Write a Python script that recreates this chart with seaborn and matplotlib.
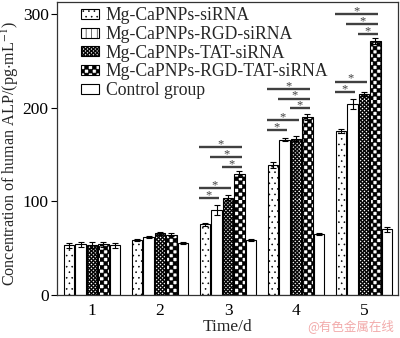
import numpy as np
import pandas as pd
import matplotlib
matplotlib.use("Agg")
import matplotlib.pyplot as plt
import matplotlib.hatch as mhatch
import matplotlib.patches as mpatches
from matplotlib.path import Path
import seaborn as sns

# ---------------- data ----------------
days = ["1", "2", "3", "4", "5"]
groups = ["Mg-CaPNPs-siRNA", "Mg-CaPNPs-RGD-siRNA", "Mg-CaPNPs-TAT-siRNA",
          "Mg-CaPNPs-RGD-TAT-siRNA", "Control group"]
sirna = [53, 59, 75.5, 139, 175]
rgd_sirna = [54, 62, 91, 166, 204]
tat_sirna = [53.5, 66, 104, 167, 215]
rgd_tat_sirna = [54, 64.5, 129, 190, 271]
control = [53, 56, 59, 65, 70]
sirna_err = [3, 1, 1.5, 3, 2]
rgd_sirna_err = [3, 1, 5, 2, 5]
tat_sirna_err = [3, 1.5, 3, 3, 2]
rgd_tat_sirna_err = [3, 1.5, 3, 3, 3]
control_err = [3, 1, 1, 1, 3]

# significance brackets: pairs of group indices, and heights per day
sig_pairs = [(0, 3), (1, 3), (2, 3), (0, 2), (0, 1)]
sig_day3 = [158.3, 147.6, 136.6, 114.2, 103.6]
sig_day4 = [219.6, 209.6, 199.3, 186.8, 176.2]
sig_day5 = [299.7, 289.0, 278.3, 227.7, 216.4]
yticks = [0, 100, 200, 300]


# ---------------- checkerboard hatch ----------------
class CheckerHatch(mhatch.HatchPatternBase):
    def __init__(self, hatch, density):
        self.n = 2 * hatch.count("O")
        self.cells = [(i, j) for i in range(self.n) for j in range(self.n)
                      if (i + j) % 2 == 0] if self.n else []
        self.num_vertices = len(self.cells) * 5

    def set_vertices_and_codes(self, vertices, codes):
        s = 1.0 / self.n
        for m, (i, j) in enumerate(self.cells):
            x0, y0 = i * s, j * s
            vertices[m * 5:(m + 1) * 5] = [(x0, y0), (x0 + s, y0), (x0 + s, y0 + s),
                                           (x0, y0 + s), (x0, y0)]
            codes[m * 5:(m + 1) * 5] = [Path.MOVETO, Path.LINETO, Path.LINETO,
                                        Path.LINETO, Path.CLOSEPOLY]


mhatch._hatch_types = [t for t in mhatch._hatch_types
                       if t is not mhatch.LargeCircles] + [CheckerHatch]

sns.set_theme(style="ticks")
plt.rcParams["font.family"] = ["Liberation Serif", "DejaVu Serif"]
plt.rcParams["mathtext.fontset"] = "stix"
plt.rcParams["hatch.linewidth"] = 0.4
plt.rcParams["axes.linewidth"] = 0.9

values = [sirna, rgd_sirna, tat_sirna, rgd_tat_sirna, control]
errors = [sirna_err, rgd_sirna_err, tat_sirna_err, rgd_tat_sirna_err, control_err]
rows = []
for g, vals in zip(groups, values):
    for d, v in zip(days, vals):
        rows.append({"Time/d": d, "Group": g, "ALP": v})
df = pd.DataFrame(rows)

fig = plt.figure(figsize=(4.0, 3.38), dpi=100)
ax = fig.add_axes([0.1425, 0.127, 0.8525, 0.8675])

sns.barplot(data=df, x="Time/d", y="ALP", hue="Group", hue_order=groups, order=days,
            palette={g: "white" for g in groups}, width=0.84, gap=0.1,
            edgecolor="black", linewidth=0.8, errorbar=None, legend=False, ax=ax)

bar_hatches = ["...", "", "O" * 26, "O" * 13, ""]
legend_hatches = ["...", "|||", "O" * 26, "O" * 13, ""]

for cont, hatch, errs in zip(ax.containers, bar_hatches, errors):
    xs, hs = [], []
    for b in cont:
        b.set_hatch(hatch)
        xs.append(b.get_x() + b.get_width() / 2)
        hs.append(b.get_height())
    ax.errorbar(xs, hs, yerr=errs, fmt="none", ecolor="black", elinewidth=0.8,
                capsize=2.5, capthick=0.8, zorder=5)

sig_levels = {"3": sig_day3, "4": sig_day4, "5": sig_day5}
for d, levels in sig_levels.items():
    di = days.index(d)
    for (i, j), yv in zip(sig_pairs, levels):
        bi = ax.containers[i][di]
        bj = ax.containers[j][di]
        slot = bi.get_width() / 0.9
        x1 = bi.get_x() + bi.get_width() / 2 - 0.55 * slot
        x2 = bj.get_x() + bj.get_width() / 2 + 0.22 * slot
        ax.plot([x1, x2], [yv, yv], color="#404040", lw=1.7, solid_capstyle="butt")
        ax.annotate("*", ((x1 + x2) / 2, yv), xytext=(0, -2.2), textcoords="offset points",
                    ha="center", va="bottom", fontsize=9, color="#404040")

ax.set_ylim(0, 313)
ax.set_xlim(-0.515, 4.5)
ax.set_yticks(yticks)
ax.set_yticklabels([str(t) for t in yticks])
ax.tick_params(axis="x", length=0, pad=6, labelsize=12.5, colors="black")
ax.tick_params(axis="y", length=4, width=0.8, direction="out", pad=2,
               labelsize=12.5, colors="black")
for sp in ax.spines.values():
    sp.set_visible(True)
    sp.set_color("#333333")
    sp.set_linewidth(0.9)

ax.set_xlabel("Time/d", fontsize=12.5, labelpad=0)
ax.set_ylabel("Concentration of human ALP/(pg$\\cdot$mL$^{-1}$)", fontsize=11.6)
ax.yaxis.set_label_coords(-0.107, 0.482)

handles = [mpatches.Patch(facecolor="white", edgecolor="black", linewidth=0.8,
                          hatch=h, label=g) for g, h in zip(groups, legend_hatches)]
ax.legend(handles=handles, loc="upper left", bbox_to_anchor=(0.07, 0.982), frameon=False,
          fontsize=12.7, handlelength=1.05, handleheight=0.5, handletextpad=0.35,
          labelspacing=0.1, borderpad=0, borderaxespad=0)

fig.text(0.985, 0.035, "@有色金属在线", ha="right", va="center", fontsize=9,
         color="#f2aaaa", family=["Noto Sans CJK SC", "DejaVu Sans"])

fig.savefig("out.png", dpi=100)
